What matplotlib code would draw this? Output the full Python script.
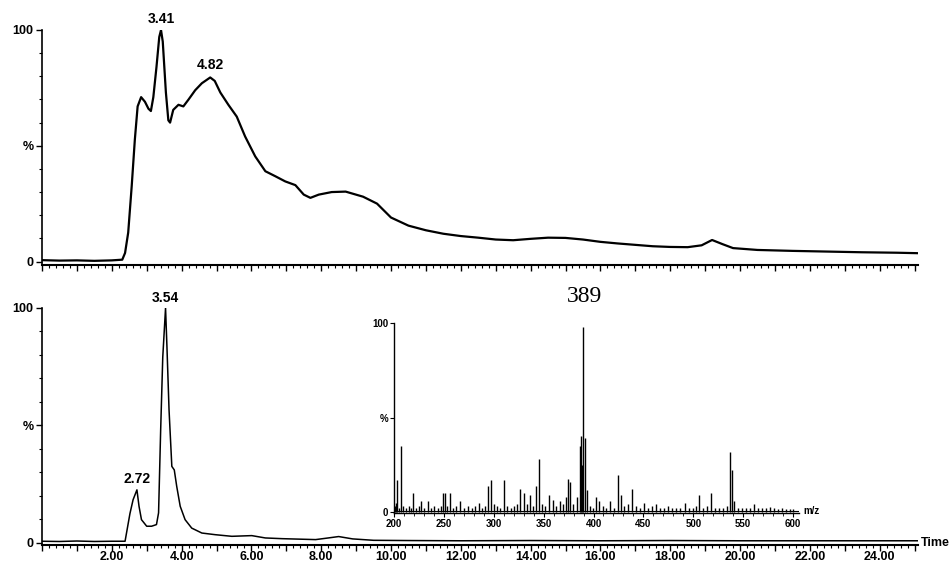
import numpy as np
import matplotlib
matplotlib.use("Agg")
import matplotlib.pyplot as plt
from matplotlib.ticker import MultipleLocator, FuncFormatter

plt.rcParams['font.family'] = ['Liberation Sans', 'DejaVu Sans']

# top chromatogram (TIC), time in min, intensity in %
t_top = [0.0, 0.5, 1.0, 1.5, 2.0, 2.30, 2.38, 2.47, 2.57, 2.66, 2.74, 2.84, 2.95,
         3.05, 3.12, 3.19, 3.28, 3.36, 3.41, 3.46, 3.55, 3.62, 3.67, 3.76, 3.91,
         4.05, 4.20, 4.39, 4.58, 4.82, 4.95, 5.11, 5.34, 5.58, 5.82, 6.11, 6.40,
         6.69, 6.97, 7.26, 7.50, 7.69, 7.93, 8.3, 8.7, 9.2, 9.6, 10.0, 10.5, 11.0,
         11.5, 12.0, 12.5, 13.0, 13.5, 14.0, 14.5, 15.0, 15.5, 16.0, 16.5, 17.0,
         17.5, 18.0, 18.5, 18.9, 19.2, 19.5, 19.8, 20.5, 21.5, 22.5, 23.5, 24.5, 25.1]
i_top = [0.6, 0.4, 0.5, 0.3, 0.5, 0.8, 3.7, 12.5, 32.5, 52.6, 67.0, 71.0, 69.0,
         66.0, 65.0, 71.0, 84.0, 97.0, 100.0, 95.0, 73.0, 61.0, 60.0, 65.5, 67.7,
         67.0, 70.0, 74.0, 77.0, 79.5, 78.0, 73.0, 67.7, 62.6, 54.0, 45.4, 39.0,
         36.8, 34.6, 33.0, 28.9, 27.5, 28.9, 30.0, 30.2, 28.0, 25.0, 19.0, 15.5, 13.5,
         12.0, 11.0, 10.3, 9.5, 9.2, 9.8, 10.3, 10.2, 9.5, 8.5, 7.8, 7.2,
         6.6, 6.3, 6.2, 7.0, 9.3, 7.5, 5.8, 5.0, 4.6, 4.3, 4.0, 3.8, 3.6]

# bottom chromatogram (extracted ion)
t_bot = [0.0, 0.5, 1.0, 1.5, 2.0, 2.38, 2.52, 2.61, 2.72, 2.78, 2.85, 3.00, 3.14,
         3.28, 3.34, 3.40, 3.46, 3.54, 3.58, 3.64, 3.72, 3.79, 3.86, 3.96, 4.10,
         4.29, 4.58, 4.96, 5.44, 6.01, 6.40, 6.88, 7.84, 8.2, 8.5, 8.9, 9.5, 10.5,
         12.0, 14.0, 16.0, 18.0, 20.0, 22.0, 24.0, 25.1]
i_bot = [0.6, 0.5, 0.7, 0.5, 0.6, 0.6, 12.4, 18.3, 22.5, 15.5, 9.8, 7.0, 7.0,
         7.7, 12.7, 48.0, 79.0, 100.0, 83.5, 56.6, 32.5, 31.0, 24.0, 15.5, 9.8,
         6.2, 4.1, 3.4, 2.7, 3.0, 2.0, 1.7, 1.3, 2.0, 2.6, 1.6, 1.0, 0.9,
         0.8, 0.9, 0.8, 0.9, 0.8, 0.8, 0.8, 0.8]

# mass spectrum of the 3.54 min peak
mz = [201, 202, 203, 205, 207, 209, 212, 215, 217, 219, 222, 225, 227, 230, 234,
      237, 240, 244, 247, 249, 251, 253, 256, 259, 262, 266, 270, 274, 278, 281,
      285, 288, 291, 294, 297, 300, 303, 306, 310, 313, 317, 320, 323, 326, 330,
      333, 336, 339, 342, 345, 348, 351, 355, 359, 362, 366, 369, 372, 374, 376,
      379, 383, 386, 387, 388, 389, 391, 393, 396, 399, 403, 406, 410, 413, 417,
      421, 425, 428, 431, 435, 439, 443, 447, 451, 455, 459, 463, 467, 471, 475,
      479, 483, 487, 492, 496, 500, 503, 506, 510, 514, 518, 522, 526, 530, 534,
      537, 539, 541, 545, 549, 553, 557, 561, 565, 569, 573, 577, 581, 585, 589,
      593, 597, 600]
rel = [3, 5, 17, 2, 35, 3, 2, 3, 2, 10, 2, 3, 6, 2, 6,
       2, 3, 2, 3, 10, 10, 3, 10, 2, 3, 6, 2, 3, 2, 3,
       5, 2, 3, 13.6, 17, 4, 3, 2, 17, 3, 2, 3, 4, 12, 10,
       4, 9, 3, 14, 28, 4, 3, 9, 6.5, 3, 6, 4, 8, 17.6, 16,
       4, 8, 35, 40, 25, 98, 39, 11.5, 3, 2, 8, 6, 3, 2, 6,
       2, 19.4, 9, 3, 4, 12, 3, 2, 5, 2, 3, 4, 2, 2, 3,
       2, 2, 2, 5, 2, 2, 3, 9, 2, 3, 10, 2, 2, 2, 3,
       32, 22, 6, 2, 2, 2, 2, 4, 2, 2, 2, 2.6, 2, 1.5, 2,
       1.5, 1.5, 1.5]

W, H = 953, 563
fig = plt.figure(figsize=(W / 100, H / 100), dpi=100)

def box(l, t, r, b):
    return [l / W, 1 - b / H, (r - l) / W, (b - t) / H]

ax1 = fig.add_axes(box(42, 30, 918, 265))
ax2 = fig.add_axes(box(42, 308, 918, 545))
ax3 = fig.add_axes(box(394, 323, 799, 513))

ax1.plot(t_top, i_top, color='black', lw=1.6)
ax2.plot(t_bot, i_bot, color='black', lw=1.1)
ax3.vlines(mz, 0, rel, color='black', lw=1.0)
ax3.plot([200, 606], [0.6, 0.6], color='black', lw=0.8)

for ax in (ax1, ax2):
    ax.set_xlim(0, 25.1)
    ax.xaxis.set_major_locator(MultipleLocator(1))
    ax.xaxis.set_minor_locator(MultipleLocator(0.2))
    ax.set_yticks([0, 50, 100])
    ax.set_yticklabels(['0', '%', '100'])
    ax.yaxis.set_minor_locator(MultipleLocator(10))
    ax.tick_params(axis='x', which='major', length=4, width=1, direction='out')
    ax.tick_params(axis='x', which='minor', length=2.5, width=0.8, direction='out')
    ax.tick_params(axis='y', which='major', length=4, width=1, pad=2, labelsize=9)
    ax.tick_params(axis='y', which='minor', length=2, width=0.8)
    for s in ('top', 'right'):
        ax.spines[s].set_visible(False)
    ax.spines['left'].set_linewidth(1.2)
    ax.spines['bottom'].set_linewidth(1.5)
    for lab in ax.get_yticklabels():
        lab.set_fontweight('bold')

ax1.set_ylim(-1.5, 100)
ax2.set_ylim(-1.0, 100)
ax1.xaxis.set_major_formatter(FuncFormatter(lambda v, p: ''))
ax2.xaxis.set_major_formatter(
    FuncFormatter(lambda v, p: '%.2f' % v if (round(v) % 2 == 0 and v > 0.5) else ''))
ax2.tick_params(axis='x', labelsize=9, pad=0.5)
for lab in ax2.get_xticklabels():
    lab.set_fontweight('bold')

ax1.annotate('3.41', (3.41, 100), xytext=(0, 3), textcoords='offset points',
             ha='center', va='bottom', fontsize=10, fontweight='bold')
ax1.annotate('4.82', (4.82, 79.5), xytext=(0, 4), textcoords='offset points',
             ha='center', va='bottom', fontsize=10, fontweight='bold')
ax2.annotate('3.54', (3.54, 100), xytext=(0, 2), textcoords='offset points',
             ha='center', va='bottom', fontsize=10, fontweight='bold')
ax2.annotate('2.72', (2.72, 22.5), xytext=(0, 3), textcoords='offset points',
             ha='center', va='bottom', fontsize=10, fontweight='bold')
ax2.text(1.003, 0.01, 'Time', transform=ax2.transAxes, ha='left', va='center',
         fontsize=9, fontweight='bold')

# inset spectrum
ax3.set_xlim(200, 606)
ax3.set_ylim(-0.5, 100)
ax3.set_xticks(range(200, 601, 50))
ax3.xaxis.set_minor_locator(MultipleLocator(10))
ax3.set_yticks([0, 50, 100])
ax3.set_yticklabels(['0', '%', '100'])
ax3.tick_params(axis='both', which='major', length=3, width=0.8, labelsize=7, pad=1)
ax3.tick_params(axis='x', which='minor', length=2, width=0.6)
for lab in ax3.get_xticklabels() + ax3.get_yticklabels():
    lab.set_fontweight('bold')
for s in ('top', 'right'):
    ax3.spines[s].set_visible(False)
ax3.spines['left'].set_linewidth(1.0)
ax3.spines['bottom'].set_linewidth(1.0)
ax3.patch.set_alpha(0)
ax3.text(1.012, 0.01, 'm/z', transform=ax3.transAxes, ha='left', va='center',
         fontsize=7, fontweight='bold')
fig.text(585 / W, 1 - 296 / H, '389', ha='center', va='center', fontsize=17,
         family=['Liberation Serif', 'DejaVu Serif'])

fig.savefig('out.png', dpi=100)
